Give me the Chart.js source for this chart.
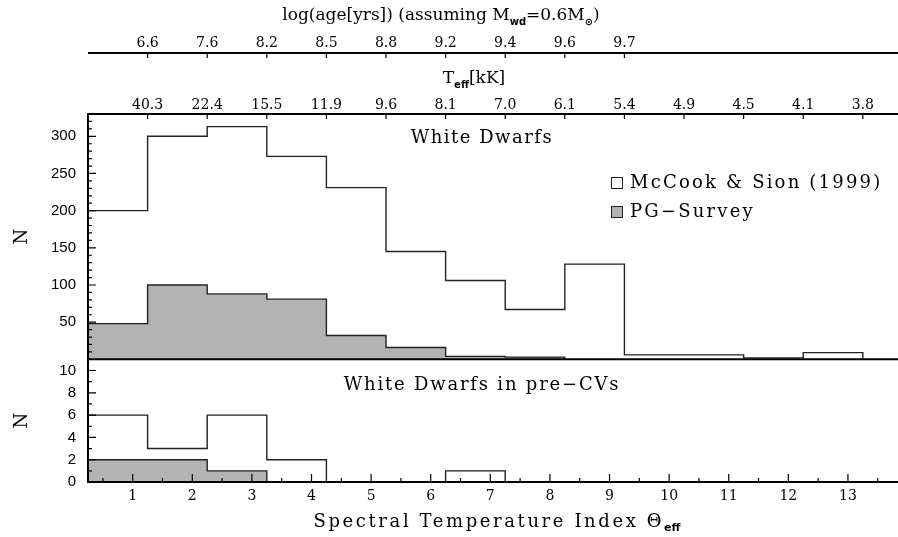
<!DOCTYPE html>
<html>
<head>
<meta charset="utf-8">
<script src="https://cdn.jsdelivr.net/npm/chart.js@4.4.1/dist/chart.umd.min.js"></script>
<style>
  body { margin: 0; background: #fff; }
</style>
</head>
<body>
<canvas id="chart" width="898" height="537"></canvas>
<script>
// bin edges of the spectral temperature index histogram
var binEdges = [0.25, 1.25, 2.25, 3.25, 4.25, 5.25, 6.25, 7.25, 8.25, 9.25, 10.25, 11.25, 12.25, 13.25];
var xTicks = [1, 2, 3, 4, 5, 6, 7, 8, 9, 10, 11, 12, 13];
var teffLabels = ['40.3', '22.4', '15.5', '11.9', '9.6', '8.1', '7.0', '6.1', '5.4', '4.9', '4.5', '4.1', '3.8'];
var ageLabels = ['6.6', '7.6', '8.2', '8.5', '8.8', '9.2', '9.4', '9.6', '9.7'];

// counts per bin
var mccookAll = [200, 300, 313, 273, 231, 145, 106, 67, 128, 6, 6, 2, 9];
var pgAll = [48, 100, 88, 81, 32, 16, 4, 3];
var mccookPreCV = [6, 3, 6, 2, 0, 0, 1];
var pgPreCV = [2, 2, 1];

var yTopTicks = [50, 100, 150, 200, 250, 300];
var yBottomTicks = [0, 2, 4, 6, 8, 10];

var LINE = '#222';
var GREY = '#b3b3b3';
var SERIF = '"DejaVu Serif", serif';

function histogram(values) {
    var pts = values.map(function (v, i) { return { x: binEdges[i], y: v }; });
    pts.push({ x: binEdges[values.length], y: 0 });
    return pts;
}

function fixTicks(vals) {
    return function (scale) {
        scale.ticks = vals.map(function (v) { return { value: v }; });
    };
}

function drawRich(ctx, parts, cx, cy, size, spacing) {
    var total = 0;
    function setFont(p) {
        ctx.font = p.sub ? 'bold ' + Math.round(size * 0.6) + 'px "DejaVu Sans"' : size + 'px ' + SERIF;
        ctx.letterSpacing = p.sub ? '0px' : spacing + 'px';
    }
    parts.forEach(function (p) {
        setFont(p);
        p.w = ctx.measureText(p.t).width;
        total += p.w;
    });
    var x = cx - total / 2;
    ctx.textAlign = 'left';
    ctx.textBaseline = 'middle';
    parts.forEach(function (p) {
        setFont(p);
        ctx.fillText(p.t, x, p.sub ? cy + size * 0.35 : cy);
        x += p.w;
    });
    ctx.letterSpacing = '0px';
}

var decor = {
    id: 'decor',
    afterDraw: function (chart) {
        var ctx = chart.ctx, a = chart.chartArea, s = chart.scales;
        var yTop = s.y, yBot = s.y2;
        ctx.save();
        ctx.strokeStyle = '#000';
        ctx.lineWidth = 2;
        ctx.beginPath();
        // frame
        ctx.moveTo(a.right, a.top); ctx.lineTo(a.left, a.top); ctx.lineTo(a.left, a.bottom); ctx.lineTo(a.right, a.bottom);
        ctx.moveTo(a.left, yTop.bottom); ctx.lineTo(a.right, yTop.bottom);
        // age axis line
        ctx.moveTo(a.left, s.xAge.bottom); ctx.lineTo(a.right, s.xAge.bottom);
        ctx.stroke();

        ctx.lineWidth = 1.2;
        ctx.beginPath();
        var v, px;
        // bottom x ticks
        for (v = 0.5; v <= 13.5; v += 0.5) {
            px = s.x.getPixelForValue(v);
            var len = (v % 1 === 0) ? 8 : 4;
            ctx.moveTo(px, a.bottom); ctx.lineTo(px, a.bottom - len);
        }
        // top ticks (Teff and age)
        binEdges.slice(1).forEach(function (e) {
            px = s.x.getPixelForValue(e);
            ctx.moveTo(px, a.top); ctx.lineTo(px, a.top + 5);
        });
        binEdges.slice(1, ageLabels.length + 1).forEach(function (e) {
            px = s.x.getPixelForValue(e);
            ctx.moveTo(px, s.xAge.bottom); ctx.lineTo(px, s.xAge.bottom + 5);
        });
        // y ticks top panel
        for (v = 10; v <= 330; v += 10) {
            px = yTop.getPixelForValue(v);
            ctx.moveTo(a.left, px); ctx.lineTo(a.left + (v % 50 === 0 ? 8 : 4), px);
        }
        // y ticks bottom panel
        for (v = 1; v <= 11; v += 1) {
            px = yBot.getPixelForValue(v);
            ctx.moveTo(a.left, px); ctx.lineTo(a.left + (v % 2 === 0 ? 8 : 4), px);
        }
        ctx.stroke();

        ctx.fillStyle = '#000';
        // titles
        drawRich(ctx, [{ t: 'log(age[yrs]) (assuming M' }, { t: 'wd', sub: true }, { t: '=0.6M' }, { t: '\u2299', sub: true }, { t: ')' }], 441, 16, 17, 0);
        drawRich(ctx, [{ t: 'T' }, { t: 'eff', sub: true }, { t: '[kK]' }], 474, 79, 17, 0);
        drawRich(ctx, [{ t: 'Spectral Temperature Index \u0398' }, { t: 'eff', sub: true }], 497, 522, 18, 2.6);
        drawRich(ctx, [{ t: 'White Dwarfs' }], 482, 138, 18, 1.5);
        drawRich(ctx, [{ t: 'White Dwarfs in pre\u2212CVs' }], 482, 385, 18, 1.8);

        // N labels
        [yTop, yBot].forEach(function (sc) {
            ctx.save();
            ctx.translate(22, (sc.top + sc.bottom) / 2);
            ctx.rotate(-Math.PI / 2);
            ctx.font = '18px ' + SERIF;
            ctx.textAlign = 'center';
            ctx.textBaseline = 'middle';
            ctx.fillText('N', 0, 0);
            ctx.restore();
        });

        // legend
        var items = [
            { label: 'McCook & Sion (1999)', fill: '#fff', y: 183 },
            { label: 'PG\u2212Survey', fill: GREY, y: 212 }
        ];
        items.forEach(function (it) {
            ctx.fillStyle = it.fill;
            ctx.fillRect(611, it.y - 6, 11, 11);
            ctx.strokeStyle = LINE;
            ctx.lineWidth = 1;
            ctx.strokeRect(611.5, it.y - 5.5, 11, 11);
            ctx.fillStyle = '#000';
            ctx.font = '18px ' + SERIF;
            ctx.letterSpacing = '2.2px';
            ctx.textAlign = 'left';
            ctx.textBaseline = 'middle';
            ctx.fillText(it.label, 630, it.y);
            ctx.letterSpacing = '0px';
        });
        ctx.restore();
    }
};

var ctx = document.getElementById('chart');

var myChart = new Chart(ctx, {
    type: 'line',
    data: {
        datasets: [{
            label: 'McCook & Sion (1999)',
            data: histogram(mccookAll),
            yAxisID: 'y',
            stepped: 'before',
            borderColor: LINE,
            borderWidth: 1.4,
            pointRadius: 0,
            fill: false
        }, {
            label: 'pre-CV McCook',
            data: histogram(mccookPreCV),
            yAxisID: 'y2',
            stepped: 'before',
            borderColor: LINE,
            borderWidth: 1.4,
            pointRadius: 0,
            fill: false
        }, {
            label: 'PG-Survey',
            data: histogram(pgAll),
            yAxisID: 'y',
            stepped: 'before',
            borderColor: LINE,
            borderWidth: 1.4,
            backgroundColor: GREY,
            pointRadius: 0,
            fill: 'origin'
        }, {
            label: 'pre-CV PG',
            data: histogram(pgPreCV),
            yAxisID: 'y2',
            stepped: 'before',
            borderColor: LINE,
            borderWidth: 1.4,
            backgroundColor: GREY,
            pointRadius: 0,
            fill: 'origin'
        }]
    },
    options: {
        responsive: false,
        animation: false,
        layout: { padding: 0 },
        plugins: {
            legend: { display: false },
            tooltip: { enabled: false }
        },
        scales: {
            x: {
                type: 'linear',
                position: 'bottom',
                min: 0.25,
                max: 13.84,
                afterBuildTicks: fixTicks(xTicks),
                afterFit: function (s) { s.height = 55; },
                grid: { display: false, drawTicks: false },
                border: { display: false },
                ticks: { autoSkip: false, maxRotation: 0, padding: 6, color: '#000', font: { family: SERIF, size: 14 } }
            },
            xTeff: {
                type: 'linear',
                position: 'top',
                weight: 1,
                min: 0.25,
                max: 13.84,
                afterBuildTicks: fixTicks(binEdges.slice(1)),
                afterFit: function (s) { s.height = 61; },
                grid: { display: false, drawTicks: false },
                border: { display: false },
                ticks: {
                    autoSkip: false, maxRotation: 0, padding: 0, color: '#000',
                    font: { family: SERIF, size: 14 },
                    callback: function (val, i) { return teffLabels[i]; }
                }
            },
            xAge: {
                type: 'linear',
                position: 'top',
                weight: 2,
                min: 0.25,
                max: 13.84,
                afterBuildTicks: fixTicks(binEdges.slice(1, ageLabels.length + 1)),
                afterFit: function (s) { s.height = 53; },
                grid: { display: false, drawTicks: false },
                border: { display: false },
                ticks: {
                    autoSkip: false, maxRotation: 0, padding: 1, color: '#000',
                    font: { family: SERIF, size: 14 },
                    callback: function (val, i) { return ageLabels[i]; }
                }
            },
            y2: {
                type: 'linear',
                position: 'left',
                stack: 'panels',
                stackWeight: 1,
                min: 0,
                max: 11,
                afterBuildTicks: fixTicks(yBottomTicks),
                afterFit: function (s) { s.width = 88; },
                grid: { display: false, drawTicks: false },
                border: { display: false },
                ticks: { autoSkip: false, padding: 12, color: '#000', font: { family: '"Liberation Sans", sans-serif', size: 15 } }
            },
            y: {
                type: 'linear',
                position: 'left',
                stack: 'panels',
                stackWeight: 2,
                min: 0,
                max: 330,
                afterBuildTicks: fixTicks(yTopTicks),
                afterFit: function (s) { s.width = 88; },
                grid: { display: false, drawTicks: false },
                border: { display: false },
                ticks: { autoSkip: false, padding: 12, color: '#000', font: { family: '"Liberation Sans", sans-serif', size: 15 } }
            }
        }
    },
    plugins: [decor]
});
</script>
</body>
</html>
